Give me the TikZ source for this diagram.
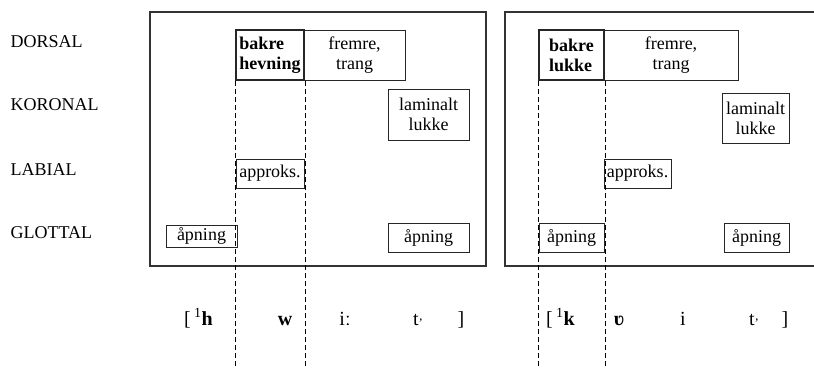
\documentclass[tikz,border=0pt]{standalone}
\usepackage{fontspec}
\setmainfont{Liberation Serif}
\usepackage{tikz}
\usetikzlibrary{positioning}

% unreleased stop mark
\newcommand{\norel}{\raisebox{-0.3ex}{\fontsize{13}{13}\selectfont ʼ}}

\begin{document}
\begin{tikzpicture}[x=1pt, y=-1pt,
    every node/.style={font=\fontsize{18}{20}\selectfont},
    gesture/.style={draw=black!85, rectangle, line width=0.9pt, inner sep=0pt, align=center},
    headgesture/.style={gesture, line width=2.2pt, font=\fontsize{18}{20}\selectfont\bfseries, align=left},
    frame/.style={draw=black!80, rectangle, line width=1.1pt, inner sep=0pt},
    tier/.style={anchor=west},
    seg/.style={anchor=base, font=\fontsize{20}{22}\selectfont},
    gridline/.style={dash pattern=on 5pt off 3pt, line width=0.8pt}]
    \useasboundingbox (0,0) rectangle (814,368);

    % tier names
    \node [tier] (dorsal) at (7,42) {DORSAL};
    \node [tier] (koronal) at (7,105) {KORONAL};
    \node [tier] (labial) at (7,170) {LABIAL};
    \node [tier] (glottal) at (7,233) {GLOTTAL};

    % first word
    \node [frame, minimum width=336, minimum height=254] (frameA) at (318,139) {};
    \node [headgesture, minimum width=68, minimum height=50] (bakA) at (270,55) {bakre\\hevning};
    \node [gesture, minimum width=101, minimum height=50] (frA) at (354.5,55) {fremre,\\trang};
    \node [gesture, minimum width=81, minimum height=51] (lamA) at (428.5,114.5) {laminalt\\lukke};
    \node [gesture, minimum width=68, minimum height=29] (appA) at (270,173.5) {approks.};
    \node [gesture, minimum width=71, minimum height=22] (opA) at (201.5,236) {åpning};
    \node [gesture, minimum width=81, minimum height=29] (opB) at (428.5,237.5) {åpning};

    % second word
    \node [frame, minimum width=320, minimum height=254] (frameB) at (665,139) {};
    \node [headgesture, minimum width=65, minimum height=50] (bakB) at (571.5,55) {bakre\\lukke};
    \node [gesture, minimum width=134, minimum height=50] (frB) at (671,55) {fremre,\\trang};
    \node [gesture, minimum width=67, minimum height=50] (lamB) at (755.5,118) {laminalt\\lukke};
    \node [gesture, minimum width=67, minimum height=29] (appB) at (637.5,173.5) {approks.};
    \node [gesture, minimum width=65, minimum height=29] (opC) at (571.5,237.5) {åpning};
    \node [gesture, minimum width=65, minimum height=29] (opD) at (756.5,237.5) {åpning};

    % transcription
    \coordinate (floor) at (0,368);
    \node [seg, anchor=base west, inner sep=0pt] (onsetA) at (184,325) {[\,\textsuperscript{1}\textbf{h}};
    \node [seg] (wA) at (285,325) {\textbf{w}};
    \node [seg] (iA) at (345,325) {iː};
    \node [seg] (tA) at (418,325) {t\norel};
    \node [seg] (endA) at (461,325) {]};
    \node [seg, anchor=base west, inner sep=0pt] (onsetB) at (546,325) {[\,\textsuperscript{1}\textbf{k}};
    \node [seg] (vB) at (619,325) {\textbf{ʋ}};
    \node [seg] (iB) at (683,325) {i};
    \node [seg] (tB) at (754,325) {t\norel};
    \node [seg] (endB) at (785,325) {]};

    % segment boundaries
    \draw [gridline] (bakA.south west) -- (bakA.south west |- floor);
    \draw [gridline] (bakA.south east) -- (bakA.south east |- floor);
    \draw [gridline] (bakB.south west) -- (bakB.south west |- floor);
    \draw [gridline] (bakB.south east) -- (bakB.south east |- floor);
\end{tikzpicture}
\end{document}
